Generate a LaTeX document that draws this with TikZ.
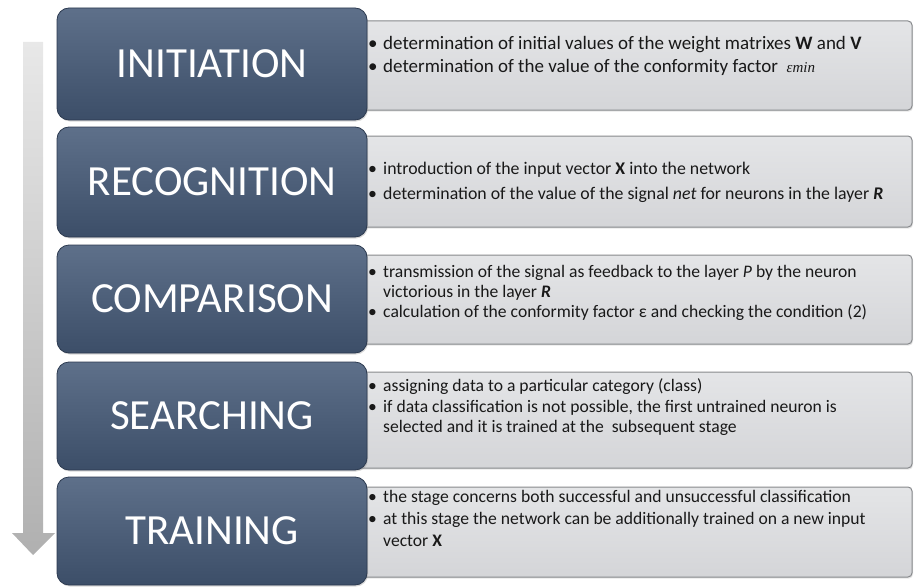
\documentclass[tikz,border=0pt]{standalone}
\usepackage{fontspec}
\setmainfont{Carlito}
\newfontfamily\epsfont{Liberation Serif}
\usetikzlibrary{shadows}
\definecolor{darktop}{RGB}{94,112,138}
\definecolor{darkbot}{RGB}{60,78,104}
\definecolor{darkedge}{RGB}{44,58,80}
\definecolor{lighttop}{RGB}{228,229,231}
\definecolor{lightbot}{RGB}{212,213,216}
\definecolor{lightedge}{RGB}{135,137,140}
\definecolor{txt}{RGB}{25,25,25}
\newcommand\bul{\makebox[15pt][l]{\textbullet}}
\newcommand\cont{\hspace*{15pt}}
\newcommand\firstline{\rule{0pt}{14pt}}
\tikzset{
  stagebox/.style={rounded corners=12pt, top color=darktop, bottom color=darkbot,
    draw=darkedge, line width=0.8pt,
    drop shadow={opacity=0.3, shadow xshift=1pt, shadow yshift=-1.5pt}},
  infobox/.style={rounded corners=4pt, top color=lighttop, bottom color=lightbot,
    draw=lightedge, line width=1pt,
    drop shadow={opacity=0.2, shadow xshift=1pt, shadow yshift=-1.5pt}},
  stagetext/.style={text=white, font=\fontsize{43}{48}\selectfont, inner sep=0pt},
  infotext/.style={text=txt, align=left, anchor=north west, inner sep=0pt}
}
\begin{document}
\begin{tikzpicture}[x=1pt,y=-1pt]
\useasboundingbox (0,0) rectangle (915,586);
% progress arrow
\shade[top color=gray!18, bottom color=gray!62]
  (23,42) -- (43,42) -- (43,533) -- (55,533) -- (33,555) -- (12,533) -- (23,533) -- cycle;
% info boxes (behind)
\path[infobox] (350,21) rectangle (912,110);
\path[infobox] (350,136) rectangle (912,227);
\path[infobox] (350,255) rectangle (912,344);
\path[infobox] (350,372) rectangle (912,468);
\path[infobox] (350,487) rectangle (912,577);
% stage boxes
\path[stagebox] (57,8) rectangle (367,120);
\path[stagebox] (57,127) rectangle (367,237);
\path[stagebox] (57,245) rectangle (367,353);
\path[stagebox] (57,362) rectangle (367,470);
\path[stagebox] (57,477) rectangle (367,585);
% stage labels
\node[stagetext] (s1) at (212,64) {INITIATION};
\node[stagetext] (s2) at (212,182) {RECOGNITION};
\node[stagetext] (s3) at (212,299) {COMPARISON};
\node[stagetext] (s4) at (212,416) {SEARCHING};
\node[stagetext] (s5) at (212,531) {TRAINING};
% info texts
\node[infotext, font=\fontsize{19}{22}\selectfont] (t1) at (368,35.5)
 {\firstline\bul determination of initial values of the weight matrixes \textbf{W} and \textbf{V}\\[1pt]
  \bul determination of the value of the conformity factor \ {\epsfont\itshape\fontsize{15}{17}\selectfont εmin}};
\node[infotext, font=\fontsize{17.8}{21}\selectfont] (t2) at (368,160.5)
 {\firstline\bul introduction of the input vector \textbf{X} into the network\\[4pt]
  \bul determination of the value of the signal \textit{net} for neurons in the layer \textbf{\textit{R}}};
\node[infotext, font=\fontsize{17.6}{20}\selectfont] (t3) at (368,263.5)
 {\firstline\bul transmission of the signal as feedback to the layer \textit{P} by the neuron\\
  \cont victorious in the layer \textbf{\textit{R}}\\
  \bul calculation of the conformity factor ε and checking the condition (2)};
\node[infotext, font=\fontsize{17.6}{20.5}\selectfont] (t4) at (368,377.5)
 {\firstline\bul assigning data to a particular category (class)\\
  \bul if data classification is not possible, the first untrained neuron is\\
  \cont selected and it is trained at the \ subsequent stage};
\node[infotext, font=\fontsize{17.6}{22}\selectfont] (t5) at (368,488.5)
 {\firstline\bul the stage concerns both successful and unsuccessful classification\\
  \bul at this stage the network can be additionally trained on a new input\\
  \cont vector \textbf{X}};
\end{tikzpicture}
\end{document}
